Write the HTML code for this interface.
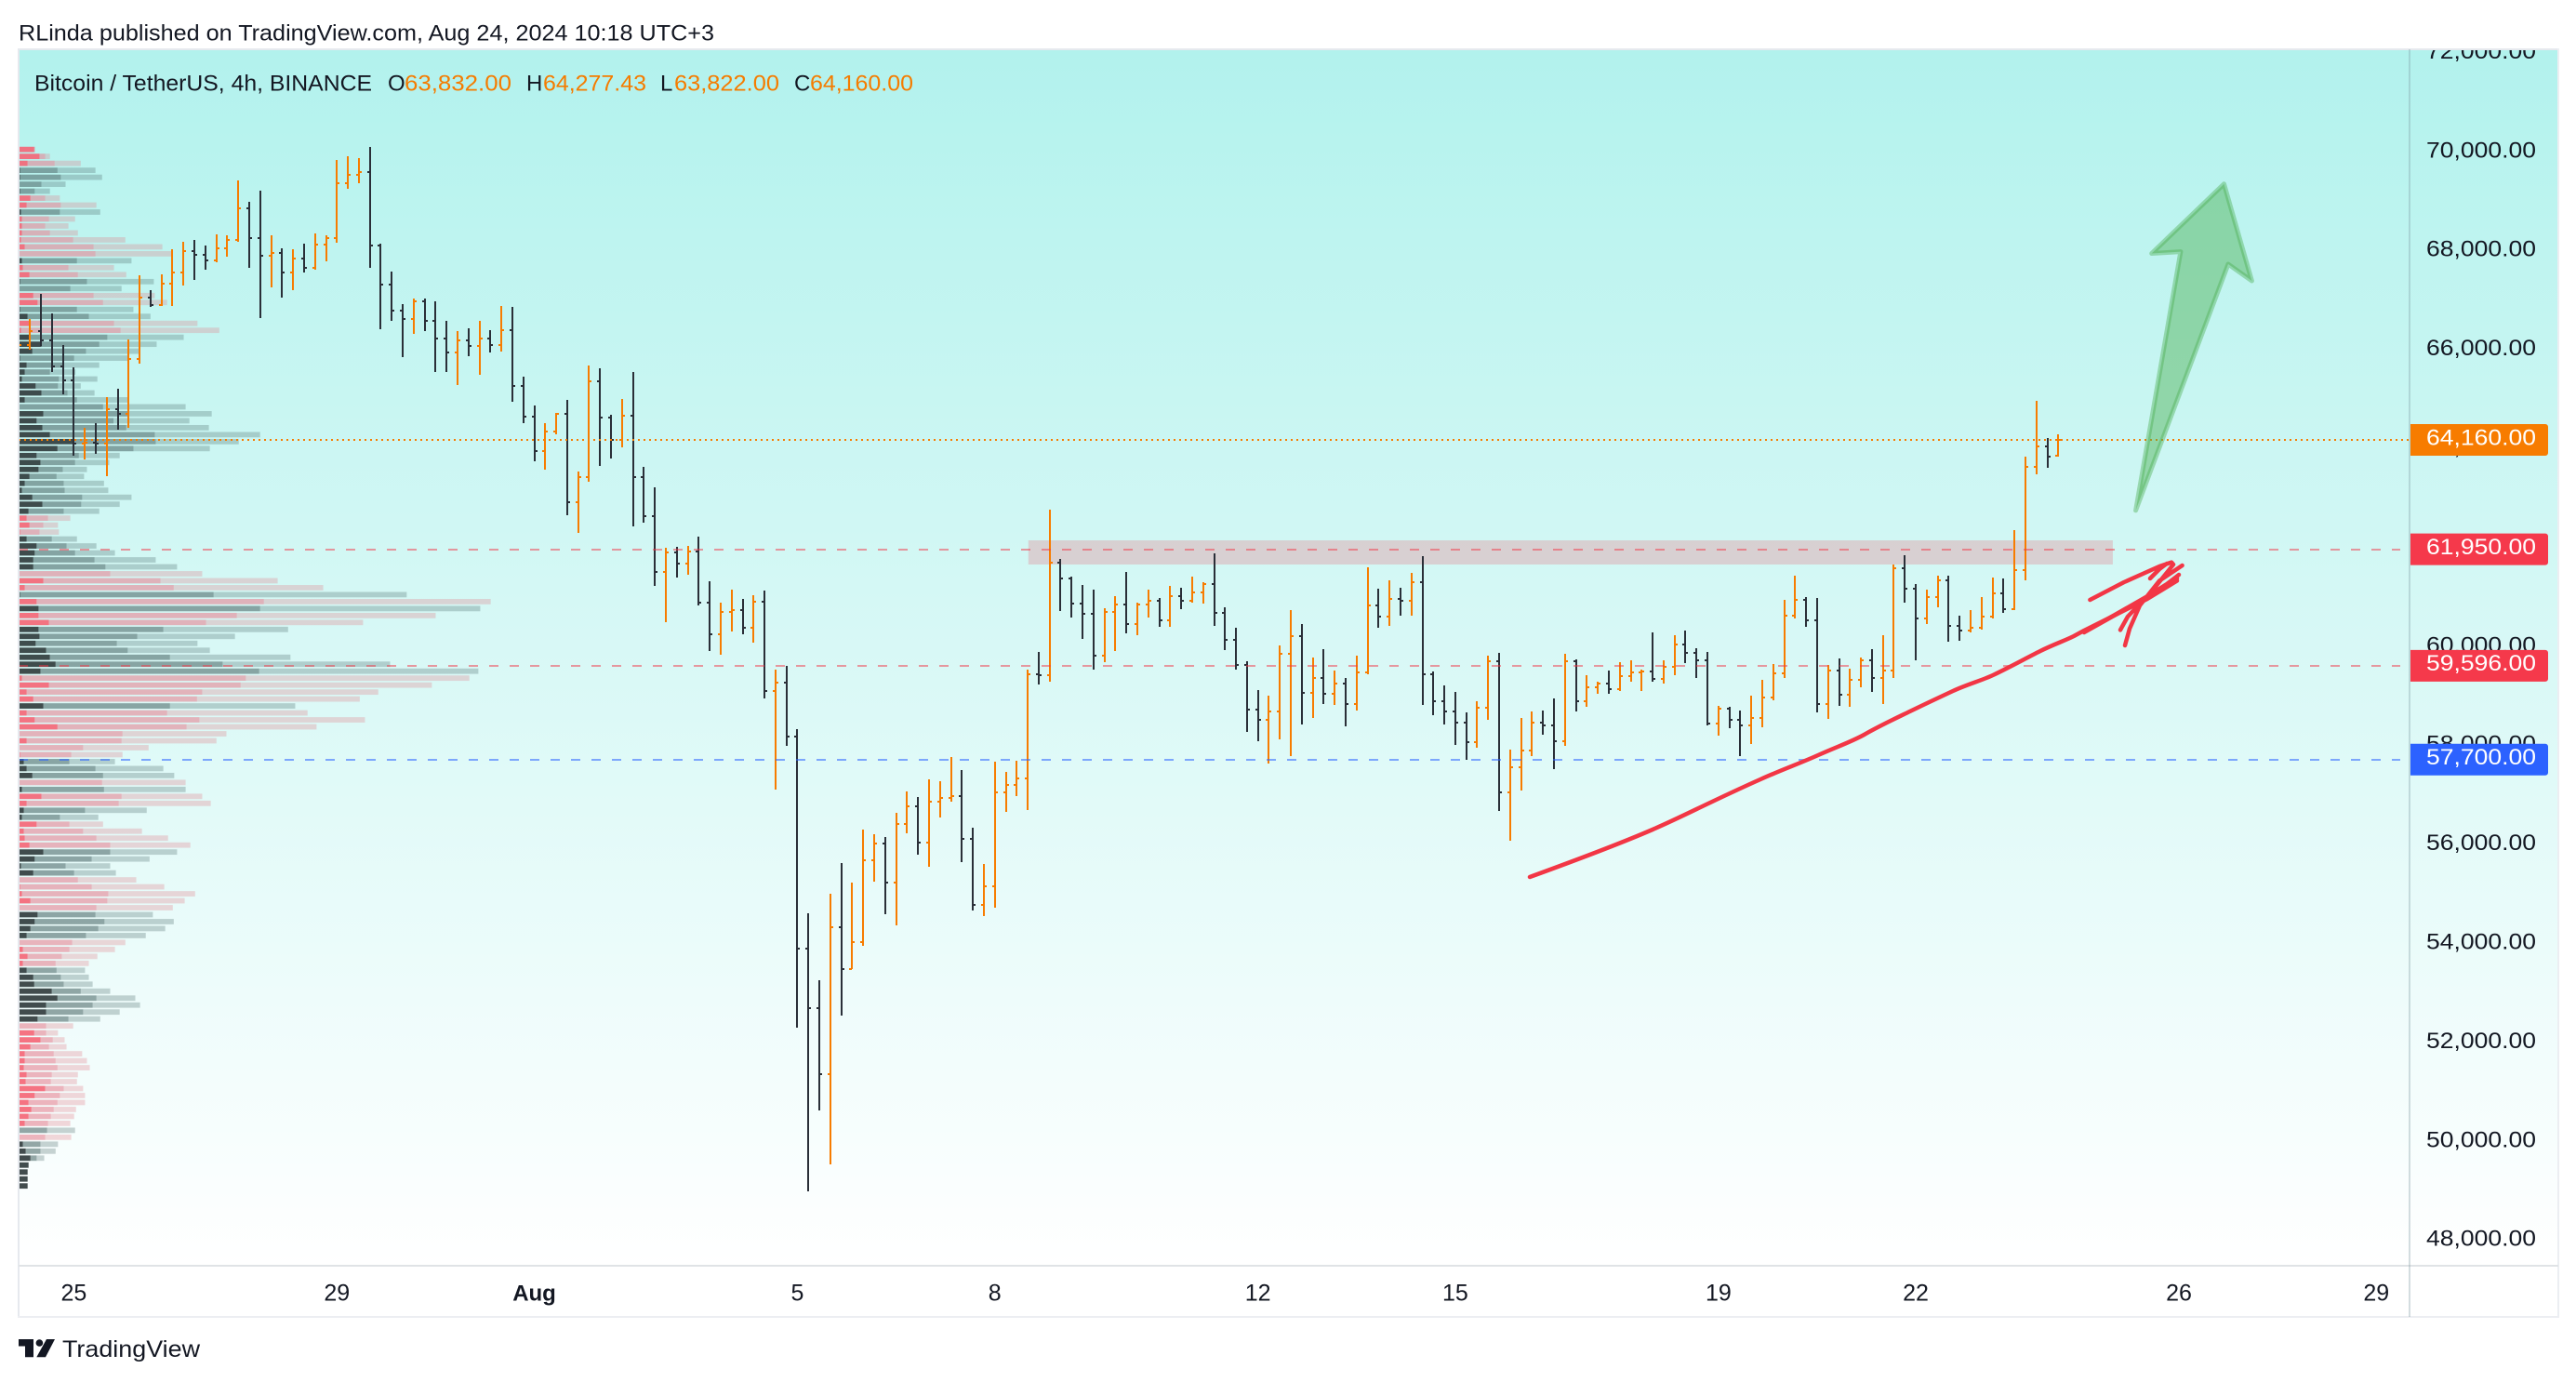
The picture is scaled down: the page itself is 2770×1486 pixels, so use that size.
<!DOCTYPE html>
<html lang="en">
<head>
<meta charset="utf-8">
<title>BTCUSDT 4h chart</title>
<style>
html,body{margin:0;padding:0;background:#fff;}
svg{display:block;font-family:"Liberation Sans",sans-serif;}
</style>
</head>
<body>
<svg id="chart" xmlns="http://www.w3.org/2000/svg" width="2770" height="1486" viewBox="0 0 2770 1486">
  <defs>
    <linearGradient id="bgGrad" gradientUnits="userSpaceOnUse" x1="0" y1="53" x2="0" y2="1360">
      <stop offset="0" stop-color="#b2f2ed"/>
      <stop offset="1" stop-color="#ffffff"/>
    </linearGradient>
    <clipPath id="plotClip"><rect x="21" y="54" width="2569" height="1306"/></clipPath>
    <clipPath id="axisClip"><rect x="2592" y="54" width="158" height="1306"/></clipPath>
  </defs>
  <rect x="0" y="0" width="2770" height="1486" fill="#ffffff"/>
  <text x="20" y="43.5" font-size="24" fill="#131722" textLength="748" lengthAdjust="spacingAndGlyphs">RLinda published on TradingView.com, Aug 24, 2024 10:18 UTC+3</text>
  <rect x="20" y="53" width="2730" height="1307" fill="url(#bgGrad)"/>
  <g id="plot-layer" clip-path="url(#plotClip)">
    <g id="profile-layer"></g>
    <g id="zone-layer"></g>
    <g id="bars-layer"></g>
    <g id="levels-layer"></g>
    <path fill="none" stroke="#f23645" stroke-width="4.5" stroke-linecap="round" stroke-linejoin="round" d="M1645 943 C1700 923 1740 908 1777 892 C1800 882 1820 872 1839 863 C1860 853 1875 846 1893 838 C1915 828 1935 821 1955 812 C1975 803 1990 798 2004.5 790 C2020 781 2035 774 2053.6 765 C2070 757 2085 750 2100 743 C2115 736 2130 732 2143 726 C2160 718 2178 708 2194 700 C2208 693 2220 689 2230 684 L2241 678 L2309 644 L2341 624.5"/>
    <path fill="none" stroke="#f23645" stroke-width="4.5" stroke-linecap="round" stroke-linejoin="round" d="M2247.4 645 L2284 626 L2322 609 L2335 604.6 L2337 607 L2313.7 636 L2288 663 L2280 677.4 M2346.6 608 L2322 624.5 L2301 651 L2290 676 L2285 694 M2241 680 L2300 647 L2330 628 L2343 618 M2262 668 L2318 636 L2341 622 M2330 606 L2322 612 L2312 622"/>
    <path fill="rgba(76,175,80,0.45)" stroke="rgba(76,175,80,0.42)" stroke-width="5" stroke-linejoin="round" d="M2391.5 197.8 L2421.4 302 L2396 284 L2296.6 548.8 L2344.9 270.6 L2313.7 272.5 Z"/>
  </g>
  <g id="axis-layer" clip-path="url(#axisClip)"></g>
  <g id="tags-layer"></g>
  <rect x="19" y="52" width="2733" height="2" fill="#e6e9ee"/>
  <rect x="19" y="52" width="2" height="1365" fill="#e6e9ee"/>
  <rect x="2750" y="52" width="2" height="1365" fill="#eceef2"/>
  <rect x="19" y="1415" width="2733" height="2" fill="#eceef2"/>
  <rect x="20" y="1360" width="2731" height="2" fill="#e0e3e6"/>
  <rect x="2590" y="53" width="2" height="1363" fill="rgba(120,150,160,0.32)"/>
  <g id="time-layer"></g>

  <g font-size="24">
    <text x="37" y="97.5" fill="#131722" textLength="363" lengthAdjust="spacingAndGlyphs">Bitcoin / TetherUS, 4h, BINANCE</text>
    <text x="417" y="97.5" fill="#131722">O</text>
    <text x="435" y="97.5" fill="#f57c00" textLength="115" lengthAdjust="spacingAndGlyphs">63,832.00</text>
    <text x="566" y="97.5" fill="#131722">H</text>
    <text x="584" y="97.5" fill="#f57c00" textLength="111" lengthAdjust="spacingAndGlyphs">64,277.43</text>
    <text x="710" y="97.5" fill="#131722">L</text>
    <text x="725" y="97.5" fill="#f57c00" textLength="113" lengthAdjust="spacingAndGlyphs">63,822.00</text>
    <text x="854" y="97.5" fill="#131722">C</text>
    <text x="871" y="97.5" fill="#f57c00" textLength="111" lengthAdjust="spacingAndGlyphs">64,160.00</text>
  </g>

  <g>
    <path fill="#131722" d="M20 1440 H36 V1459.3 H27 V1447.5 H20 Z"/>
    <circle cx="42.4" cy="1444" r="3.8" fill="#131722"/>
    <path fill="#131722" d="M50 1440 H59 L49 1459.3 H39.3 Z"/>
    <text x="67" y="1459" font-size="25" fill="#131722" textLength="148" lengthAdjust="spacingAndGlyphs">TradingView</text>
  </g>
</svg>
<script>
// ---------- OHLC data (USDT) ----------
const highs = [66130,66598,67112,66711,66078,65621,64405,64499,65019,65188,66191,67488,67194,67507,68008,68165,68196,68083,68309,68290,69405,68979,69199,68290,68027,68008,
68121,68334,68290,69819,69900,69856,70076,68121,67563,66899,67018,67018,66962,66567,66360,66410,66567,66379,66868,66849,65439,64857,64499,64706,64969,63522,
65658,65608,64668,64982,65533,63610,63202,61980,61993,62011,62199,61297,60865,61128,60940,61021,61115,59518,59593,58315,54593,53239,54988,55608,55207,56285,
56191,56134,56623,57055,56942,57300,57262,57751,57488,56322,55589,57657,57450,57676,59518,59875,62751,61748,61397,61228,61134,60758,61003,61491,60871,61134,
60965,61209,61172,61397,61285,61867,60777,60363,59687,59104,58991,60006,60721,60439,59762,59931,59499,59348,59800,61585,61153,61322,61172,61473,61811,59480,
59198,59067,58653,58879,59800,59856,57901,58540,58672,58691,58935,59837,59724,59405,59273,59499,59668,59706,59518,60269,59706,60213,60307,59950,59875,58785,
58766,58691,58991,59311,59630,60927,61416,60984,60965,59612,59743,59536,59762,59931,60213,61642,61830,61247,61134,61416,61416,60608,60721,60984,61379,61360,
62337,63816,64956,64204,64277.43];
const lows = [65596,65991,66053,65533,65082,63841,63766,63873,63434,64374,64405,65709,66849,66868,66868,67288,67400,67601,67757,67864,68165,67645,66623,67244,67037,67187,
67551,67601,67770,68152,69230,69355,67645,66398,66567,65834,66304,66360,65533,65533,65270,65859,65477,65928,65953,64932,64499,63729,63559,64280,62638,62288,
63321,63635,63791,64017,62419,62494,61210,60476,61385,61435,60815,59894,59818,60288,60232,60063,58941,57093,57976,52281,48979,50608,49524,52525,53459,53941,
55238,54580,54348,56216,55777,55533,56529,56848,55627,54649,54536,54706,56642,56961,56679,59217,59273,60702,60570,60138,59518,59668,59894,60251,60213,60570,
60382,60382,60739,60871,60852,60401,59912,59518,58258,58070,57619,58108,57770,58409,58540,58822,58803,58371,58691,59424,60363,60401,60608,60608,58803,58597,
58409,57995,57694,57939,58503,56661,56059,57074,57770,58202,57506,57976,58672,58766,59029,59029,59085,59273,59085,59273,59236,59405,59649,59348,58390,58183,
58333,57770,58014,58352,58897,59348,60551,60382,58653,58521,58785,58766,59161,59067,58822,59348,60871,59706,60439,60777,60082,60100,60269,60326,60551,60664,
60721,61328,63471,63603,63822];
const closes = [66084,66360,66172,65646,65364,64092,64110,64092,64781,64687,65802,67037,66880,67325,67551,67983,67902,67789,68039,68209,68848,68240,67883,67945,67551,67833,
67645,68115,68240,69355,69524,69581,68096,67306,66780,66611,66955,66573,66216,65934,66178,66066,66216,66084,66385,65251,64637,63935,64336,64681,62902,63415,
65345,64618,64167,64656,63415,62620,61492,61886,61661,61905,60871,60232,60683,60721,60363,60890,59085,59254,58164,53879,52675,51341,54311,53465,54010,55664,
56003,55219,56397,56754,56021,56848,56924,56961,56097,54768,55144,57036,57187,57318,59424,59405,61679,61360,60852,60645,59800,60683,60833,60439,60833,60909,
60514,61003,60909,61078,61247,60664,60119,59612,58709,58503,58672,59837,60194,59048,59348,59029,59236,58822,59461,60815,60589,60946,60909,61285,59424,58879,
58672,58446,58051,58747,59687,57036,57544,57882,58446,58390,58070,59687,58879,59161,59236,59123,59386,59461,59480,59330,59574,60025,59856,59706,58427,58728,
58503,58390,58540,58954,59442,60608,60927,60514,58822,59499,59010,59311,59706,59348,59499,61567,61153,60551,60984,61322,60401,60307,60363,60589,61059,60739,
61529,63622,64029,63828,64160];
const opens = [65900,66084,66360,66172,65646,65364,64092,64110,64092,64781,64687,65802,67037,66880,67325,67551,67983,67902,67789,68039,68209,68848,68240,67883,67945,67551,
67833,67645,68115,68240,69355,69524,69581,68096,67306,66780,66611,66955,66573,66216,65934,66178,66066,66216,66084,66385,65251,64637,63935,64336,64681,62902,
63415,65345,64618,64167,64656,63415,62620,61492,61886,61661,61905,60871,60232,60683,60721,60363,60890,59085,59254,58164,53879,52675,51341,54311,53465,54010,
55664,56003,55219,56397,56754,56021,56848,56924,56961,56097,54768,55144,57036,57187,57318,59424,59405,61679,61360,60852,60645,59800,60683,60833,60439,60833,
60909,60514,61003,60909,61078,61247,60664,60119,59612,58709,58503,58672,59837,60194,59048,59348,59029,59236,58822,59461,60815,60589,60946,60909,61285,59424,
58879,58672,58446,58051,58747,59687,57036,57544,57882,58446,58390,58070,59687,58879,59161,59236,59123,59386,59461,59480,59330,59574,60025,59856,59706,58427,
58728,58503,58390,58540,58954,59442,60608,60927,60514,58822,59499,59010,59311,59706,59348,59499,61567,61153,60551,60984,61322,60401,60307,60363,60589,61059,
60739,61529,63622,64029,63832];

// ---------- Volume profile data (relative volume per price row, top row first) ----------
const profileTopPrice = 70031;
const profileBinSize = 140.6;
const profileTotal = [35,66,131,162,176,99,66,87,164,172,119,105,125,225,303,325,238,201,227,285,217,287,313,242,278,377,423,348,291,254,231,170,120,166,131,160,231,352,407,360,401,509,464,403,213,191,144,138,180,189,238,213,170,109,83,85,123,164,203,289,334,387,546,642,818,995,973,879,726,568,456,377,403,573,783,969,950,871,758,719,583,609,730,628,438,417,274,219,203,305,328,352,352,387,405,270,168,178,260,315,362,334,276,193,205,248,307,372,350,325,283,327,309,268,225,203,166,148,140,148,156,193,246,256,213,172,115,83,97,101,134,144,150,125,123,136,140,140,121,117,109,119,111,83,78,54,21,19,19,19];
const profileMid = [34,56,76,82,89,48,34,56,89,87,64,56,66,115,158,162,123,105,125,144,109,158,178,123,148,201,215,187,170,142,117,93,66,85,83,103,123,178,230,200,227,287,289,242,127,119,93,80,95,97,134,132,95,62,52,44,70,101,119,160,183,193,299,327,411,517,509,460,395,305,250,207,230,319,430,507,479,468,387,376,319,313,381,354,219,217,136,111,107,162,178,176,180,217,211,140,87,107,136,164,193,193,154,99,117,125,154,189,187,164,162,181,168,142,113,107,91,78,80,89,95,131,164,156,136,105,58,58,72,64,74,78,82,70,68,95,87,82,74,68,62,60,56,46,46,38,21,19,19,19];
const profileDark = [33,44,19,3,3,0,3,25,17,5,7,7,7,5,13,0,7,9,23,3,0,31,40,3,19,25,5,25,48,29,3,17,13,7,36,48,13,0,52,38,50,66,115,82,38,46,42,23,13,7,29,50,21,17,23,3,17,38,34,31,31,0,52,13,3,38,42,42,64,42,44,36,58,66,78,46,7,64,17,31,52,17,34,82,0,17,0,3,11,17,29,0,7,48,17,11,7,38,11,13,23,52,34,5,31,0,3,7,25,0,40,34,25,17,0,9,19,9,17,31,33,70,82,58,58,40,0,33,46,25,13,13,11,17,15,56,34,21,27,21,13,0,0,9,15,25,21,19,19,19];
const profileSide = "RRRGGGGRRGRRRRRRGRRGGRRGGRRGGGGGGGGGGGGGGGGGGGGGGGGGGRRRGGGGGRRRGRGRRGGGGGGGRRRRGRRRRRRRGGGRGRRGGRRRRGGGGRRRRRGGGGRRRRGGGGGGGGRRRRRRRRRRRRRRRGRGGGGGGG";

// ---------- Levels and axes ----------
const levelPrices = [61950, 59596, 57700];
const levelColors = ['rgba(242,54,69,0.5)', 'rgba(242,54,69,0.5)', 'rgba(41,98,255,0.55)'];
const lastPrice = 64160;
const zonePrices = [62130, 61642];
const zoneBars = [92.06, 190.97];
const priceTicks = [72000,70000,68000,66000,64000,62000,60000,58000,56000,54000,52000,50000,48000];
const tagPrices = [64160, 61950, 59596, 57700];
const tagColors = ['#f77c00', '#f5394b', '#f5394b', '#2c62ff'];
const timeLabels = ['25','29','Aug','5','8','12','15','19','22','26','29'];
const timeBars = [5,29,47,71,89,113,131,155,173,197,215];

function xScale(i){ return 20.4 + i * 11.79; }
function yScale(p){ return 816.7 + (57700 - p) * 0.0532; }
function volWidth(v){ return v * 0.5102; }
function fmt(p){ return p.toLocaleString('en-US',{minimumFractionDigits:2,maximumFractionDigits:2}); }

const NS = 'http://www.w3.org/2000/svg';
function create(tag, parent){
  const el = document.createElementNS(NS, tag);
  parent.appendChild(el);
  return el;
}

// Volume profile
const profileLayer = document.getElementById('profile-layer');
const sidePaint = {
  R: ['rgba(245,100,116,0.9)', 'rgba(230,132,146,0.6)', 'rgba(225,127,137,0.3)'],
  G: ['rgba(45,56,58,0.9)', 'rgba(80,108,108,0.6)', 'rgba(80,108,108,0.3)']
};
profileTotal.forEach(function(total, i){
  const cy = yScale(profileTopPrice - i * profileBinSize);
  const paint = sidePaint[profileSide[i]];
  const dark = volWidth(profileDark[i]);
  const mid = volWidth(profileMid[i]);
  const full = volWidth(total);

  const r1 = create('rect', profileLayer);
  
  
  r1.setAttribute('x', 20);
  r1.setAttribute('y', cy - 2.9);
  r1.setAttribute('width', dark);
  r1.setAttribute('height', 5.8);
  r1.setAttribute('fill', paint[0]);

  const r2 = create('rect', profileLayer);
  
  
  r2.setAttribute('x', 20 + dark);
  r2.setAttribute('y', cy - 2.9);
  r2.setAttribute('width', Math.max(0, mid - dark));
  r2.setAttribute('height', 5.8);
  r2.setAttribute('fill', paint[1]);

  const r3 = create('rect', profileLayer);
  
  
  r3.setAttribute('x', 20 + mid);
  r3.setAttribute('y', cy - 2.9);
  r3.setAttribute('width', Math.max(0, full - mid));
  r3.setAttribute('height', 5.8);
  r3.setAttribute('fill', paint[2]);
});

// Resistance zone
const zoneLayer = document.getElementById('zone-layer');
const zone = create('rect', zoneLayer);


zone.setAttribute('x', xScale(zoneBars[0]));
zone.setAttribute('y', yScale(zonePrices[0]));
zone.setAttribute('width', xScale(zoneBars[1]) - xScale(zoneBars[0]));
zone.setAttribute('height', yScale(zonePrices[1]) - yScale(zonePrices[0]));
zone.setAttribute('fill', 'rgba(242,54,69,0.2)');

// OHLC bars
const barsLayer = document.getElementById('bars-layer');
highs.forEach(function(h, i){
  const x = Math.round(xScale(i));
  const yh = Math.round(yScale(h));
  const yl = Math.round(yScale(lows[i]));
  const yo = Math.round(yScale(opens[i]));
  const yc = Math.round(yScale(closes[i]));
  const bar = create('path', barsLayer);
  
  
  bar.setAttribute('d', 'M' + x + ' ' + yh + 'V' + yl + 'M' + (x - 3) + ' ' + yo + 'H' + x + 'M' + x + ' ' + yc + 'H' + (x + 3));
  bar.setAttribute('fill', 'none');
  bar.setAttribute('stroke', closes[i] >= opens[i] ? '#f77c00' : '#2a2f38');
  bar.setAttribute('stroke-width', 2);
  bar.setAttribute('shape-rendering', 'crispEdges');
});

// Horizontal levels
const levelsLayer = document.getElementById('levels-layer');
levelPrices.forEach(function(p, i){
  const line = create('line', levelsLayer);
  
  
  line.setAttribute('x1', 20);
  line.setAttribute('x2', 2581);
  line.setAttribute('y1', Math.round(yScale(p)));
  line.setAttribute('y2', Math.round(yScale(p)));
  line.setAttribute('stroke', levelColors[i]);
  line.setAttribute('stroke-width', 2);
  line.setAttribute('stroke-dasharray', '10 12');
});
const lastLine = create('line', levelsLayer);


lastLine.setAttribute('x1', 20);
lastLine.setAttribute('x2', 2591);
lastLine.setAttribute('y1', Math.round(yScale(lastPrice)));
lastLine.setAttribute('y2', Math.round(yScale(lastPrice)));
lastLine.setAttribute('stroke', '#f77c00');
lastLine.setAttribute('stroke-width', 2);
lastLine.setAttribute('stroke-dasharray', '2 4');

// Price axis labels
const axisLayer = document.getElementById('axis-layer');
priceTicks.forEach(function(p){
  const t = create('text', axisLayer);
  
  
  t.setAttribute('x', 2609);
  t.setAttribute('y', yScale(p) + 7);
  t.setAttribute('font-size', 24);
  t.setAttribute('fill', '#131722');
  t.setAttribute('textLength', 118);
  t.setAttribute('lengthAdjust', 'spacingAndGlyphs');
  t.textContent = fmt(p);
});

// Price tags
const tagsLayer = document.getElementById('tags-layer');
tagPrices.forEach(function(p, i){
  const cy = yScale(p);
  const tag = create('path', tagsLayer);
  
  
  const top = cy - 17, bottom = cy + 17;
  tag.setAttribute('d', 'M2592 ' + top + 'H2737a3 3 0 0 1 3 3V' + (bottom - 3) + 'a3 3 0 0 1 -3 3H2592Z');
  tag.setAttribute('fill', tagColors[i]);
  const label = create('text', tagsLayer);
  
  
  label.setAttribute('x', 2609);
  label.setAttribute('y', cy + 5.3);
  label.setAttribute('font-size', 24);
  label.setAttribute('fill', '#ffffff');
  label.setAttribute('textLength', 118);
  label.setAttribute('lengthAdjust', 'spacingAndGlyphs');
  label.textContent = fmt(p);
});

// Time axis labels
const timeLayer = document.getElementById('time-layer');
timeLabels.forEach(function(s, i){
  const t = create('text', timeLayer);
  
  
  t.setAttribute('x', xScale(timeBars[i]));
  t.setAttribute('y', 1398.5);
  t.setAttribute('text-anchor', 'middle');
  t.setAttribute('font-size', s === 'Aug' ? 24 : 25);
  t.setAttribute('font-weight', s === 'Aug' ? 'bold' : 'normal');
  t.setAttribute('fill', '#131722');
  t.textContent = s;
});
</script>
</body>
</html>
